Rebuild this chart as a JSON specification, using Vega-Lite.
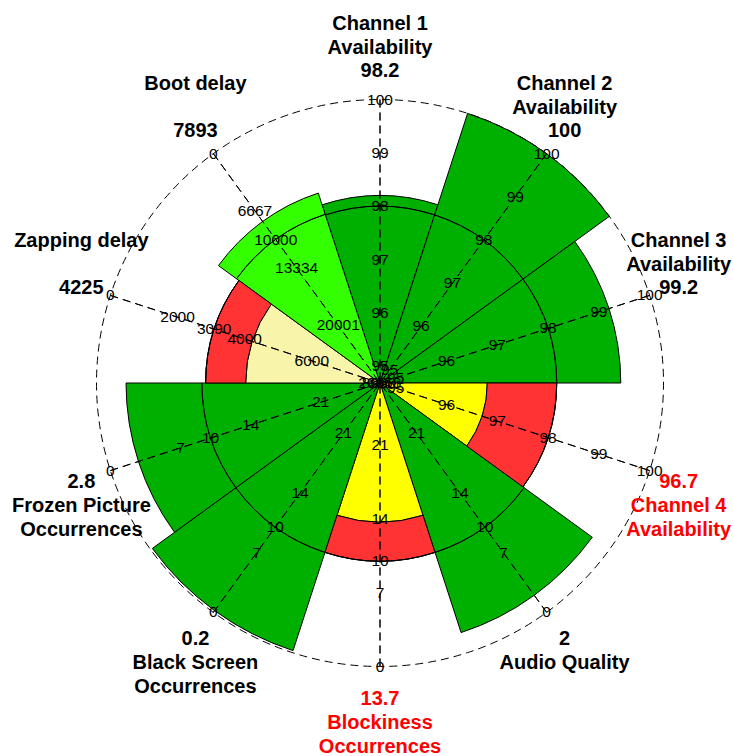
{
  "$schema": "https://vega.github.io/schema/vega-lite/v6.json",
  "width": 706,
  "height": 746,
  "autosize": {"type": "none"},
  "padding": {"left": 27, "top": 10, "right": 0, "bottom": 0},
  "background": "white",
  "config": {"view": {"stroke": null}, "text": {"font": "Liberation Sans"}},
  "datasets": {
    "axes": [
      {"k": 0, "name": ["Channel 1", "Availability"], "value": 98.2, "target": 98, "inner": 94.69, "outer": 100, "status": "good"},
      {"k": 1, "name": ["Channel 2", "Availability"], "value": 100, "target": 98, "inner": 94.69, "outer": 100, "status": "good"},
      {"k": 2, "name": ["Channel 3", "Availability"], "value": 99.2, "target": 98, "inner": 94.69, "outer": 100, "status": "good"},
      {"k": 3, "name": ["Channel 4", "Availability"], "value": 96.7, "target": 98, "inner": 94.69, "outer": 100, "status": "critical"},
      {"k": 4, "name": ["Audio Quality", ""], "value": 2, "target": 10, "inner": 26.9, "outer": 0, "status": "good"},
      {"k": 5, "name": ["Blockiness", "Occurrences"], "value": 13.7, "target": 10, "inner": 26.9, "outer": 0, "status": "critical"},
      {"k": 6, "name": ["Black Screen", "Occurrences"], "value": 0.2, "target": 10, "inner": 26.9, "outer": 0, "status": "good"},
      {"k": 7, "name": ["Frozen Picture", "Occurrences"], "value": 2.8, "target": 10, "inner": 26.9, "outer": 0, "status": "good"},
      {"k": 8, "name": ["Zapping delay", ""], "value": 4225, "target": 3090, "inner": 8030, "outer": 0, "status": "warning"},
      {"k": 9, "name": ["Boot delay", ""], "value": 7893, "target": 10000, "inner": 26700, "outer": 0, "status": "acceptable"}
    ],
    "ticks": [
      {"k": 0, "v": 95}, {"k": 0, "v": 96}, {"k": 0, "v": 97}, {"k": 0, "v": 98}, {"k": 0, "v": 99}, {"k": 0, "v": 100},
      {"k": 1, "v": 95}, {"k": 1, "v": 96}, {"k": 1, "v": 97}, {"k": 1, "v": 98}, {"k": 1, "v": 99}, {"k": 1, "v": 100},
      {"k": 2, "v": 95}, {"k": 2, "v": 96}, {"k": 2, "v": 97}, {"k": 2, "v": 98}, {"k": 2, "v": 99}, {"k": 2, "v": 100},
      {"k": 3, "v": 95}, {"k": 3, "v": 96}, {"k": 3, "v": 97}, {"k": 3, "v": 98}, {"k": 3, "v": 99}, {"k": 3, "v": 100},
      {"k": 4, "v": 0}, {"k": 4, "v": 7}, {"k": 4, "v": 10}, {"k": 4, "v": 14}, {"k": 4, "v": 21},
      {"k": 5, "v": 0}, {"k": 5, "v": 7}, {"k": 5, "v": 10}, {"k": 5, "v": 14}, {"k": 5, "v": 21},
      {"k": 6, "v": 0}, {"k": 6, "v": 7}, {"k": 6, "v": 10}, {"k": 6, "v": 14}, {"k": 6, "v": 21},
      {"k": 7, "v": 0}, {"k": 7, "v": 7}, {"k": 7, "v": 10}, {"k": 7, "v": 14}, {"k": 7, "v": 21},
      {"k": 8, "v": 0}, {"k": 8, "v": 2000}, {"k": 8, "v": 3090}, {"k": 8, "v": 4000}, {"k": 8, "v": 6000}, {"k": 8, "v": 8000},
      {"k": 9, "v": 0}, {"k": 9, "v": 6667}, {"k": 9, "v": 10000}, {"k": 9, "v": 13334}, {"k": 9, "v": 20001}, {"k": 9, "v": 26668}
    ]
  },
  "layer": [
    {
      "data": {"name": "axes"},
      "transform": [
        {"calculate": "datum.k - 0.5", "as": "k0"},
        {"calculate": "datum.k + 0.5", "as": "k1"},
        {"calculate": "(datum.value - datum.inner) / (datum.outer - datum.inner)", "as": "rn"}
      ],
      "mark": {"type": "arc", "stroke": "black", "strokeWidth": 1},
      "encoding": {
        "theta": {"field": "k0", "type": "quantitative", "scale": {"domain": [-0.5, 9.5], "range": [-0.3141592653589793, 5.969026041820607], "nice": false, "zero": false}},
        "theta2": {"field": "k1"},
        "radius": {"field": "rn", "type": "quantitative", "scale": {"type": "linear", "domain": [0, 1], "range": [0, 283.5], "nice": false}},
        "fill": {"field": "status", "type": "nominal", "scale": {"domain": ["good", "acceptable", "warning", "critical"], "range": ["#00b000", "#33ff00", "#f8f5aa", "#ffff00"]}, "legend": null}
      }
    },
    {
      "data": {"name": "axes"},
      "transform": [
        {"filter": "datum.status == 'warning' || datum.status == 'critical'"},
        {"calculate": "datum.k - 0.5", "as": "k0"},
        {"calculate": "datum.k + 0.5", "as": "k1"},
        {"calculate": "(datum.value - datum.inner) / (datum.outer - datum.inner)", "as": "rn"},
        {"calculate": "(datum.target - datum.inner) / (datum.outer - datum.inner)", "as": "tn"}
      ],
      "mark": {"type": "arc", "fill": "#ff3333", "stroke": "black", "strokeWidth": 1},
      "encoding": {
        "theta": {"field": "k0", "type": "quantitative", "scale": {"domain": [-0.5, 9.5], "range": [-0.3141592653589793, 5.969026041820607], "nice": false, "zero": false}},
        "theta2": {"field": "k1"},
        "radius": {"field": "tn", "type": "quantitative", "scale": {"type": "linear", "domain": [0, 1], "range": [0, 283.5], "nice": false}},
        "radius2": {"field": "rn"}
      }
    },
    {
      "data": {"name": "axes"},
      "transform": [
        {"calculate": "datum.k - 0.5", "as": "k0"},
        {"calculate": "datum.k + 0.5", "as": "k1"},
        {"calculate": "(datum.target - datum.inner) / (datum.outer - datum.inner)", "as": "tn"}
      ],
      "mark": {"type": "arc", "fillOpacity": 0, "stroke": "black", "strokeWidth": 0.9},
      "encoding": {
        "theta": {"field": "k0", "type": "quantitative", "scale": {"domain": [-0.5, 9.5], "range": [-0.3141592653589793, 5.969026041820607], "nice": false, "zero": false}},
        "theta2": {"field": "k1"},
        "radius": {"field": "tn", "type": "quantitative", "scale": {"type": "linear", "domain": [0, 1], "range": [0, 283.5], "nice": false}},
        "radius2": {"field": "tn"}
      }
    },
    {
      "data": {"name": "axes"},
      "mark": {"type": "arc", "fillOpacity": 0, "stroke": "black", "strokeWidth": 1, "strokeDash": [8, 5]},
      "encoding": {
        "theta": {"field": "k", "type": "quantitative", "scale": {"domain": [-0.5, 9.5], "range": [-0.3141592653589793, 5.969026041820607], "nice": false, "zero": false}},
        "theta2": {"field": "k"},
        "radius": {"datum": 1, "type": "quantitative", "scale": {"type": "linear", "domain": [0, 1], "range": [0, 283.5], "nice": false}}
      }
    },
    {
      "data": {"name": "axes"},
      "transform": [
        {"calculate": "datum.k - 0.5", "as": "k0"},
        {"calculate": "datum.k + 0.5", "as": "k1"},
        {"aggregate": [{"op": "min", "field": "k0", "as": "a0"}, {"op": "max", "field": "k1", "as": "a1"}]}
      ],
      "mark": {"type": "arc", "fillOpacity": 0, "stroke": "black", "strokeWidth": 1, "strokeDash": [8, 5]},
      "encoding": {
        "theta": {"field": "a0", "type": "quantitative", "scale": {"domain": [-0.5, 9.5], "range": [-0.3141592653589793, 5.969026041820607], "nice": false, "zero": false}},
        "theta2": {"field": "a1"},
        "radius": {"datum": 1, "type": "quantitative", "scale": {"type": "linear", "domain": [0, 1], "range": [0, 283.5], "nice": false}}
      }
    },
    {
      "data": {"name": "ticks"},
      "transform": [
        {"lookup": "k", "from": {"data": {"name": "axes"}, "key": "k", "fields": ["inner", "outer"]}},
        {"calculate": "(datum.v - datum.inner) / (datum.outer - datum.inner)", "as": "rn"}
      ],
      "mark": {"type": "text", "fontSize": 15.5, "align": "center", "baseline": "middle", "color": "black"},
      "encoding": {
        "theta": {"field": "k", "type": "quantitative", "scale": {"domain": [-0.5, 9.5], "range": [-0.3141592653589793, 5.969026041820607], "nice": false, "zero": false}},
        "radius": {"field": "rn", "type": "quantitative", "scale": {"type": "linear", "domain": [0, 1], "range": [0, 283.5], "nice": false}},
        "text": {"field": "v", "type": "nominal"}
      }
    },
    {
      "data": {"name": "axes"},
      "mark": {"type": "text", "fontSize": 20, "fontWeight": "bold", "align": "center", "baseline": "middle", "dy": 2},
      "encoding": {
        "theta": {"field": "k", "type": "quantitative", "scale": {"domain": [-0.5, 9.5], "range": [-0.3141592653589793, 5.969026041820607], "nice": false, "zero": false}},
        "radius": {"datum": 1.1076, "type": "quantitative", "scale": {"type": "linear", "domain": [0, 1], "range": [0, 283.5], "nice": false}},
        "text": {"field": "value", "type": "nominal"},
        "color": {"field": "status", "type": "nominal", "scale": {"domain": ["good", "acceptable", "warning", "critical"], "range": ["#000000", "#000000", "#000000", "#ff0000"]}, "legend": null}
      }
    },
    {
      "data": {"name": "axes"},
      "transform": [{"filter": "datum.k <= 2 || datum.k >= 8"}],
      "mark": {"type": "text", "fontSize": 20, "fontWeight": "bold", "align": "center", "baseline": "middle", "lineHeight": 23.7, "dy": -45},
      "encoding": {
        "theta": {"field": "k", "type": "quantitative", "scale": {"domain": [-0.5, 9.5], "range": [-0.3141592653589793, 5.969026041820607], "nice": false, "zero": false}},
        "radius": {"datum": 1.1076, "type": "quantitative", "scale": {"type": "linear", "domain": [0, 1], "range": [0, 283.5], "nice": false}},
        "text": {"field": "name", "type": "nominal"},
        "color": {"field": "status", "type": "nominal", "scale": {"domain": ["good", "acceptable", "warning", "critical"], "range": ["#000000", "#000000", "#000000", "#ff0000"]}, "legend": null}
      }
    },
    {
      "data": {"name": "axes"},
      "transform": [{"filter": "datum.k >= 3 && datum.k <= 7"}],
      "mark": {"type": "text", "fontSize": 20, "fontWeight": "bold", "align": "center", "baseline": "middle", "lineHeight": 23.7, "dy": 26},
      "encoding": {
        "theta": {"field": "k", "type": "quantitative", "scale": {"domain": [-0.5, 9.5], "range": [-0.3141592653589793, 5.969026041820607], "nice": false, "zero": false}},
        "radius": {"datum": 1.1076, "type": "quantitative", "scale": {"type": "linear", "domain": [0, 1], "range": [0, 283.5], "nice": false}},
        "text": {"field": "name", "type": "nominal"},
        "color": {"field": "status", "type": "nominal", "scale": {"domain": ["good", "acceptable", "warning", "critical"], "range": ["#000000", "#000000", "#000000", "#ff0000"]}, "legend": null}
      }
    }
  ]
}
